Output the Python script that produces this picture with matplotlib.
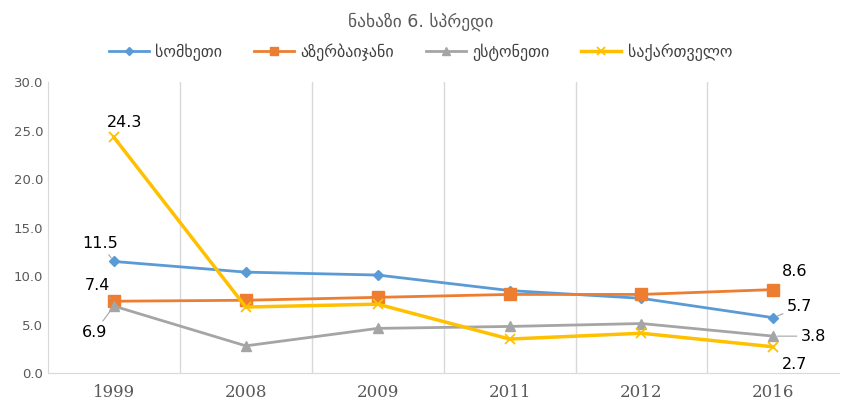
import numpy as np
from matplotlib import pyplot as plt

years = ["1999", "2008", "2009", "2011", "2012", "2016"]
armenia = [11.5, 10.4, 10.1, 8.5, 7.7, 5.7]
azerbaijan = [7.4, 7.5, 7.8, 8.1, 8.1, 8.6]
estonia = [6.9, 2.8, 4.6, 4.8, 5.1, 3.8]
georgia = [24.3, 6.8, 7.1, 3.5, 4.1, 2.7]
names = ["სომხეთი", "აზერბაიჯანი", "ესტონეთი", "საქართველო"]

fig = plt.figure(figsize=(8.41, 4.05), dpi=100)
ax = fig.add_axes([0.057, 0.079, 0.941, 0.7185])

x = np.arange(len(years))
ax.plot(x, armenia, color='#5B9BD5', lw=2, marker='D', ms=5, label=names[0])
ax.plot(x, azerbaijan, color='#ED7D31', lw=2, marker='s', ms=8, label=names[1])
ax.plot(x, estonia, color='#A5A5A5', lw=2, marker='^', ms=7, label=names[2])
ax.plot(x, georgia, color='#FFC000', lw=2.5, marker='x', ms=7, mew=1.3, label=names[3])

ax.set_xlim(-0.5, len(years) - 0.5)
ax.set_ylim(0, 30)
ax.set_yticks(np.arange(0, 31, 5))
ax.set_yticklabels(["%.1f" % v for v in np.arange(0, 31, 5)], color='#595959', fontsize=9.5)
ax.set_xticks(x)
ax.set_xticklabels(years, family='DejaVu Serif', fontsize=12, color='#595959')
ax.set_xticks(np.arange(0.5, len(years) - 1, 1), minor=True)
ax.grid(True, which='minor', axis='x', color='#D9D9D9', lw=1)
ax.tick_params(which='both', length=0)
ax.tick_params(axis='x', pad=8)
for s in ['top', 'right']:
    ax.spines[s].set_visible(False)
ax.spines['left'].set_color('#D9D9D9')
ax.spines['bottom'].set_color('#D9D9D9')

# data labels
lab = dict(fontsize=11.5, color='black', ha='center', va='center', textcoords='offset points')
line = dict(arrowstyle='-', color='#A5A5A5', lw=0.8, shrinkA=1, shrinkB=3)
ax.annotate("%.1f" % georgia[0], (0, georgia[0]), xytext=(8, 11), **lab)
ax.annotate("%.1f" % armenia[0], (0, armenia[0]), xytext=(-10, 13), arrowprops=line, **lab)
ax.annotate("%.1f" % azerbaijan[0], (0, azerbaijan[0]), xytext=(-12, 11), arrowprops=line, **lab)
ax.annotate("%.1f" % estonia[0], (0, estonia[0]), xytext=(-14, -19), arrowprops=line, **lab)
ax.annotate("%.1f" % azerbaijan[5], (5, azerbaijan[5]), xytext=(15, 13), **lab)
ax.annotate("%.1f" % armenia[5], (5, armenia[5]), xytext=(19, 8), arrowprops=line, **lab)
ax.annotate("%.1f" % estonia[5], (5, estonia[5]), xytext=(29, 0), arrowprops=line, **lab)
ax.annotate("%.1f" % georgia[5], (5, georgia[5]), xytext=(15, -13), **lab)

fig.text(0.5, 0.946, "ნახაზი 6. სპრედი", ha='center', va='center', fontsize=12.5, color='#595959')
fig.legend(loc='center', bbox_to_anchor=(0.5, 0.872), ncol=4, frameon=False, markerscale=0.8,
           fontsize=11.5, handlelength=2.5, handletextpad=0.4, columnspacing=2.0, labelcolor='#404040')

plt.savefig("out.png", dpi=100)
